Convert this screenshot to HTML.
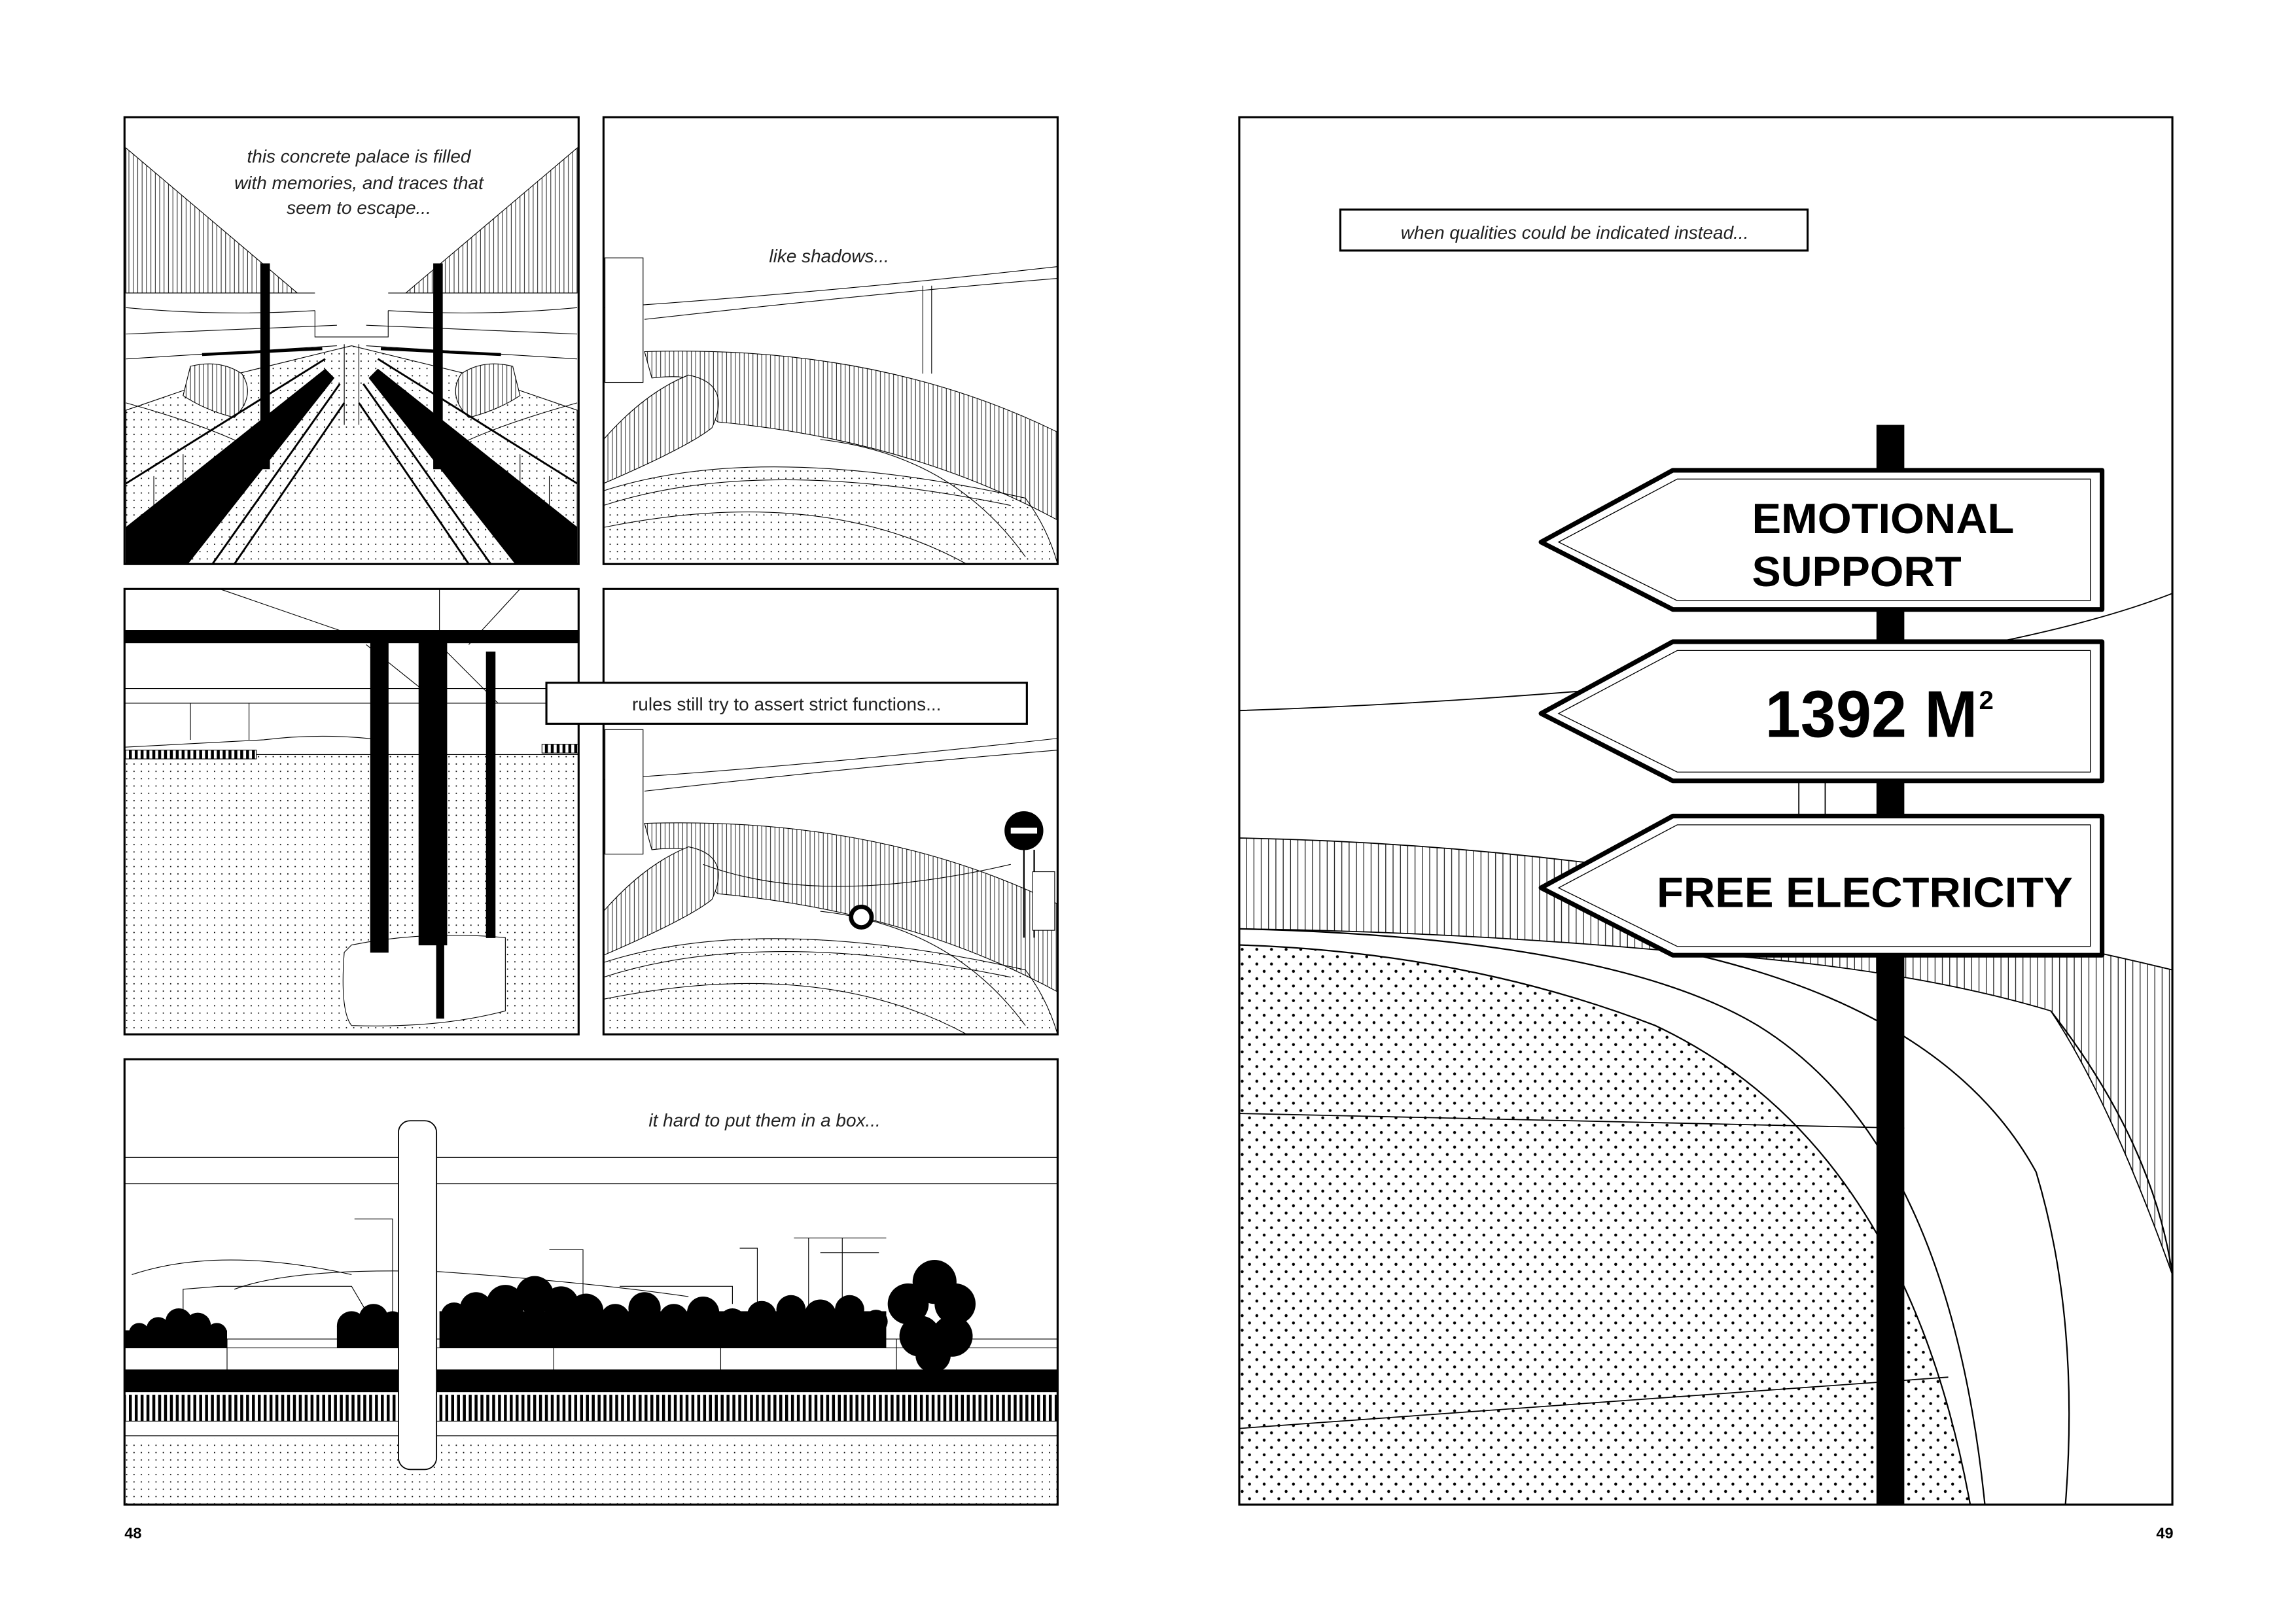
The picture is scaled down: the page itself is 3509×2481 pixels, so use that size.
<!DOCTYPE html>
<html><head><meta charset="utf-8"><style>html,body{margin:0;padding:0;background:#fff}svg{display:block}</style></head><body>
<svg width="3509" height="2481" viewBox="0 0 1567.4 1107.8" preserveAspectRatio="none" xmlns="http://www.w3.org/2000/svg" font-family="Liberation Sans, sans-serif">
<defs>
<pattern id="d1" width="5" height="5" patternUnits="userSpaceOnUse"><circle cx="1.5" cy="1.5" r="0.45" fill="#000"/></pattern>
<pattern id="d2" width="10" height="10" patternUnits="userSpaceOnUse"><circle cx="3" cy="3" r="1" fill="#000"/><circle cx="8" cy="8" r="1" fill="#000"/></pattern>
<pattern id="h1" width="3" height="10" patternUnits="userSpaceOnUse"><rect width="3" height="10" fill="#fff"/><line x1="1" y1="0" x2="1" y2="10" stroke="#000" stroke-width="0.4"/></pattern>
<pattern id="h2" width="5" height="10" patternUnits="userSpaceOnUse"><rect width="5" height="10" fill="#fff"/><line x1="1" y1="0" x2="1" y2="10" stroke="#000" stroke-width="0.5"/></pattern>
<pattern id="rb" width="4" height="20" patternUnits="userSpaceOnUse"><rect width="4" height="20" fill="#fff"/><rect x="0" y="0" width="2" height="20" fill="#000"/></pattern>
<clipPath id="c1"><rect x="85" y="80" width="310" height="305"/></clipPath>
<clipPath id="c2"><rect x="412" y="80" width="310" height="305"/></clipPath>
<clipPath id="c3"><rect x="85" y="402" width="310" height="304"/></clipPath>
<clipPath id="c4"><rect x="412" y="402" width="310" height="304"/></clipPath>
<clipPath id="c5"><rect x="85" y="723" width="637" height="304"/></clipPath>
<clipPath id="c6"><rect x="846" y="80" width="637" height="947"/></clipPath>
</defs>
<rect width="1567.4" height="1107.8" fill="#fff"/>

<!-- Panel 1 -->
<g clip-path="url(#c1)" stroke="#000" fill="none" stroke-width="0.5">
<polygon points="86,101 203,200 86,200" fill="url(#h1)"/>
<polygon points="394,101 277,200 394,200" fill="url(#h1)"/>
<path d="M86,200 H215 M265,200 H394 M86,210 Q150,216 215,212 M265,212 Q330,216 394,210 M86,228 L230,222 M250,222 L394,228 M86,245 L230,236 M250,236 L394,245 M215,212 V230 H265 V212"/>
<polygon points="86,280 150,258 240,236 330,258 394,280 394,385 86,385" fill="url(#d1)"/>
<path d="M86,275 Q140,290 170,305 M394,275 Q340,290 310,305" />
<path d="M130,250 Q150,245 165,255 Q175,270 160,285 Q140,280 125,270 Z" fill="url(#h1)"/>
<path d="M350,250 Q330,245 315,255 Q305,270 320,285 Q340,280 355,270 Z" fill="url(#h1)"/>
<polygon points="86,360 222,252 228,258 128,385 86,385" fill="#000"/>
<polygon points="394,360 258,252 252,258 352,385 394,385" fill="#000"/>
<path d="M86,330 L222,245 M394,330 L258,245 M145,385 L232,262 M335,385 L248,262 M160,385 L235,275 M320,385 L245,275" stroke-width="1.3"/>
<path d="M138,242 L220,238 M342,242 L260,238" stroke-width="2"/>
<rect x="178" y="180" width="6" height="140" fill="#000"/>
<rect x="296" y="180" width="6" height="140" fill="#000"/>
<path d="M105,325 V355 M125,310 V345 M375,325 V355 M355,310 V345 M235,235 V290 M245,235 V290"/>
</g>
<rect x="85" y="80" width="310" height="305" fill="none" stroke="#000" stroke-width="1.4"/>
<g font-style="italic" font-size="12.5" text-anchor="middle" fill="#222"><text x="245" y="111">this concrete palace is filled</text><text x="245" y="129">with memories, and traces that</text><text x="245" y="146">seem to escape...</text></g>

<!-- Panel 2 -->
<g clip-path="url(#c2)" stroke="#000" fill="none" stroke-width="0.5">
<path d="M412,210 Q560,200 722,182 M440,218 Q600,200 722,190 M630,195 V255 M636,195 V255"/>
<rect x="413" y="176" width="26" height="85" fill="#fff"/>
<path d="M440,240 Q600,235 722,295 L722,355 Q620,300 490,288 Q478,278 482,262 Q470,255 445,258 Z" fill="url(#h1)"/>
<path d="M412,300 Q440,268 470,256 Q500,262 486,292 Q470,305 412,330 Z" fill="url(#h1)"/>
<path d="M412,335 Q520,300 700,340 Q715,360 722,385 L412,385 Z" fill="url(#d1)"/>
<path d="M412,345 Q520,310 690,345 M412,360 Q560,330 660,385 M560,300 Q650,310 700,380"/>
</g>
<rect x="412" y="80" width="310" height="305" fill="none" stroke="#000" stroke-width="1.4"/>
<text x="566" y="179" font-style="italic" font-size="12.5" text-anchor="middle" fill="#222">like shadows...</text>

<!-- Panel 3 -->
<g clip-path="url(#c3)" stroke="#000" fill="none" stroke-width="0.5">
<path d="M150,402 L260,440 M300,402 L300,440 M355,402 L320,440 M85,470 L395,470 M85,480 L395,480 M250,440 L300,480 M300,440 L340,480"/>
<rect x="85" y="430" width="310" height="9" fill="#000" stroke="none"/>
<polygon points="85,515 395,515 395,706 85,706" fill="url(#d1)"/>
<rect x="85" y="512" width="90" height="6" fill="url(#rb)"/>
<rect x="370" y="508" width="25" height="6" fill="url(#rb)"/>
<path d="M85,510 L180,505 Q220,500 260,505 M130,480 V505 M170,480 V505"/>
<path d="M240,645 Q290,635 345,640 L345,690 Q300,702 240,700 Q232,690 235,650 Z" fill="#fff"/>
<rect x="253" y="438" width="12" height="212" fill="#000"/>
<rect x="286" y="438" width="19" height="207" fill="#000"/>
<rect x="332" y="445" width="6" height="195" fill="#000"/>
<rect x="298" y="640" width="5" height="55" fill="#000"/>
</g>
<rect x="85" y="402" width="310" height="304" fill="none" stroke="#000" stroke-width="1.4"/>

<!-- Panel 4 -->
<g clip-path="url(#c4)" stroke="#000" fill="none" stroke-width="0.5">
<path d="M412,532 Q560,522 722,504 M440,540 Q600,522 722,512"/>
<rect x="413" y="498" width="26" height="85" fill="#fff"/>
<path d="M440,562 Q600,557 722,617 L722,677 Q620,622 490,610 Q478,600 482,584 Q470,577 445,580 Z" fill="url(#h1)"/>
<path d="M412,622 Q440,590 470,578 Q500,584 486,614 Q470,627 412,652 Z" fill="url(#h1)"/>
<path d="M412,657 Q520,622 700,662 Q715,682 722,706 L412,706 Z" fill="url(#d1)"/>
<path d="M412,667 Q520,632 690,667 M412,682 Q560,652 660,706 M560,622 Q650,632 700,700 M480,590 Q560,620 690,590"/>
<path d="M699,580 V640 M706,580 V640" stroke-width="1"/>
<rect x="705" y="595" width="15" height="40" fill="#fff"/>
<circle cx="699" cy="567" r="13" fill="#000"/>
<rect x="690" y="565" width="18" height="4" fill="#fff" stroke="none"/>
<circle cx="588" cy="626" r="7" fill="#fff" stroke-width="3"/>
</g>
<rect x="412" y="402" width="310" height="304" fill="none" stroke="#000" stroke-width="1.4"/>
<rect x="373" y="466" width="328" height="28" fill="#fff" stroke="#000" stroke-width="1.4"/>
<text x="537" y="485" font-size="12.5" text-anchor="middle" fill="#222">rules still try to assert strict functions...</text>

<!-- Panel 5 -->
<g clip-path="url(#c5)" stroke="#000" fill="none" stroke-width="0.5">
<path d="M85,790 H722 M85,808 H722"/>
<path d="M90,870 Q150,850 240,870 M160,880 Q200,865 300,868 Q400,875 470,885"/>
<path d="M125,895 V880 L150,878 H240 L250,895 M242,832 H268 V900 M375,853 H398 V890 M505,852 H517 V890 M423,878 H500 V890 M542,845 H605 M575,845 V895 M552,845 V895 M560,855 H600"/>
<g fill="#000" stroke="none">
<circle cx="95" cy="910" r="7"/><circle cx="108" cy="907" r="8"/><circle cx="122" cy="902" r="9"/><circle cx="135" cy="905" r="9"/><circle cx="148" cy="910" r="7"/><rect x="85" y="908" width="70" height="12"/>
<circle cx="240" cy="905" r="10"/><circle cx="255" cy="900" r="10"/><circle cx="268" cy="903" r="8"/><rect x="230" y="905" width="45" height="15"/>
<circle cx="310" cy="898" r="9"/><circle cx="325" cy="893" r="11"/><circle cx="345" cy="890" r="13"/><circle cx="365" cy="884" r="13"/><circle cx="383" cy="890" r="12"/><circle cx="400" cy="895" r="12"/><circle cx="420" cy="900" r="10"/><circle cx="440" cy="893" r="11"/><circle cx="460" cy="900" r="10"/><circle cx="480" cy="896" r="11"/><circle cx="500" cy="902" r="9"/><circle cx="520" cy="898" r="10"/><circle cx="540" cy="894" r="10"/><circle cx="560" cy="898" r="11"/><circle cx="580" cy="894" r="10"/><circle cx="598" cy="902" r="8"/><rect x="300" y="895" width="305" height="25"/>
<circle cx="620" cy="890" r="14"/><circle cx="638" cy="875" r="15"/><circle cx="652" cy="890" r="14"/><circle cx="628" cy="912" r="14"/><circle cx="650" cy="912" r="14"/><circle cx="637" cy="925" r="12"/>
</g>
<path d="M85,914 H722 M85,920 H722 M155,914 V935 M378,914 V935 M492,914 V935 M612,914 V935"/>
<rect x="85" y="935" width="637" height="15" fill="#000"/>
<rect x="85" y="952" width="637" height="18" fill="url(#rb)" stroke="none"/>
<path d="M85,970 H722 M85,980 H722"/>
<rect x="85" y="982" width="637" height="45" fill="url(#d1)" stroke="none"/>
<rect x="272" y="765" width="26" height="238" rx="8" fill="#fff" stroke-width="0.8"/>
</g>
<rect x="85" y="723" width="637" height="304" fill="none" stroke="#000" stroke-width="1.4"/>
<text x="522" y="769" font-style="italic" font-size="12.5" text-anchor="middle" fill="#222">it hard to put them in a box...</text>

<!-- Right panel -->
<g clip-path="url(#c6)" stroke="#000" fill="none" stroke-width="0.8">
<path d="M846,485 Q1060,478 1300,450 Q1420,430 1483,405"/>
<path d="M846,572 Q1000,575 1150,598 Q1350,630 1483,662 L1483,870 Q1440,750 1400,690 Q1300,660 1150,650 Q1000,636 846,634 Z" fill="url(#h2)"/>
<path d="M846,645 Q1000,650 1130,700 Q1300,780 1345,1027 L846,1027 Z" fill="url(#d2)" stroke-width="1"/>
<path d="M846,634 Q1100,640 1200,700 Q1330,780 1355,1027" stroke-width="1"/>
<path d="M1150,650 Q1330,690 1390,800 Q1420,900 1410,1027" stroke-width="1"/>
<path d="M1400,690 Q1470,780 1483,870" stroke-width="1"/>
<path d="M846,760 L1300,770 M846,975 L1330,940"/>
<rect x="1228" y="530" width="18" height="30" fill="#fff"/>
</g>
<rect x="1281" y="290" width="19" height="737" fill="#000"/>
<rect x="846" y="80" width="637" height="947" fill="none" stroke="#000" stroke-width="1.4"/>
<rect x="915" y="143" width="319" height="28" fill="#fff" stroke="#000" stroke-width="1.4"/>
<text x="1075" y="163" font-style="italic" font-size="12.5" text-anchor="middle" fill="#222">when qualities could be indicated instead...</text>

<g stroke="#000" fill="#fff">
<path d="M1142,321 H1435 V416 H1142 L1052,370 Z" stroke-width="3.2" stroke-linejoin="round"/>
<path d="M1145,327 H1427 V410 H1145 L1064,370 Z" stroke-width="0.6"/>
<path d="M1142,438 H1435 V533 H1142 L1052,487 Z" stroke-width="3.2" stroke-linejoin="round"/>
<path d="M1145,444 H1427 V527 H1145 L1064,487 Z" stroke-width="0.6"/>
<path d="M1142,557 H1435 V652 H1142 L1052,606 Z" stroke-width="3.2" stroke-linejoin="round"/>
<path d="M1145,563 H1427 V646 H1145 L1064,606 Z" stroke-width="0.6"/>
</g>
<g font-weight="bold" fill="#000">
<text x="1196" y="364" font-size="29" textLength="179" lengthAdjust="spacingAndGlyphs">EMOTIONAL</text>
<text x="1196" y="400" font-size="29" textLength="143" lengthAdjust="spacingAndGlyphs">SUPPORT</text>
<text x="1205" y="503" font-size="45" textLength="145" lengthAdjust="spacingAndGlyphs">1392 M</text>
<text x="1351" y="484" font-size="18">2</text>
<text x="1131" y="619" font-size="29" textLength="284" lengthAdjust="spacingAndGlyphs">FREE ELECTRICITY</text>
</g>
<g font-weight="bold" font-size="10.5" fill="#000"><text x="85" y="1050">48</text><text x="1472" y="1050">49</text></g>
</svg>
</body></html>
